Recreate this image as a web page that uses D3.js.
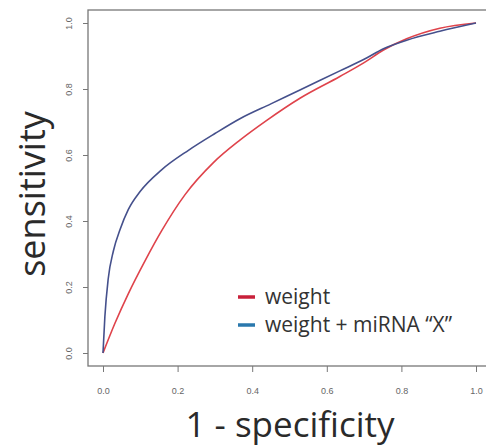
<!DOCTYPE html>
<html>
<head>
<meta charset="utf-8">
<script src="https://cdn.jsdelivr.net/npm/d3@7"></script>
<style>
  html, body { margin: 0; padding: 0; background: #fff; }
  svg { display: block; }
</style>
</head>
<body>
<div id="chart"></div>
<script>
// ROC curves, values
const seriesNames = ['weight', 'weight + miRNA \u201cX\u201d'];

const weightFpr = [0, 0.032, 0.068, 0.113, 0.157, 0.22, 0.296, 0.367, 0.439, 0.528, 0.635, 0.70, 0.752, 0.814, 0.903, 1];
const weightTpr = [0, 0.09, 0.18, 0.28, 0.37, 0.48, 0.577, 0.645, 0.705, 0.772, 0.838, 0.88, 0.918, 0.952, 0.984, 1];

const mirnaFpr = [0, 0.005, 0.014, 0.028, 0.046, 0.068, 0.10, 0.157, 0.23, 0.30, 0.367, 0.45, 0.528, 0.635, 0.70, 0.752, 0.814, 0.903, 1];
const mirnaTpr = [0, 0.11, 0.225, 0.31, 0.375, 0.435, 0.49, 0.555, 0.615, 0.665, 0.71, 0.755, 0.797, 0.855, 0.89, 0.922, 0.948, 0.975, 1];

const xTicks = [0, 0.2, 0.4, 0.6, 0.8, 1.0];
const yTicks = [0, 0.2, 0.4, 0.6, 0.8, 1.0];

const width = 486;
const height = 448;
const box = { left: 88, top: 10, right: 492, bottom: 366 };

const svg = d3.select('#chart')
    .append('svg')
    .attr('width', width)
    .attr('height', height);

const x = d3.scaleLinear().domain([0, 1]).range([103, 476]);
const y = d3.scaleLinear().domain([0, 1]).range([353, 23]);

// plot frame
svg.append('rect')
    .attr('x', box.left)
    .attr('y', box.top)
    .attr('width', box.right - box.left)
    .attr('height', box.bottom - box.top)
    .attr('fill', 'none')
    .attr('stroke', '#777')
    .attr('stroke-width', 1.3);

// x axis
const xAxis = svg.append('g')
    .attr('transform', `translate(0,${box.bottom})`)
    .call(d3.axisBottom(x).tickValues(xTicks).tickSize(6).tickFormat(d3.format('.1f')));
xAxis.select('.domain').remove();
xAxis.selectAll('line').attr('stroke', '#777');
xAxis.selectAll('text')
    .attr('y', 28)
    .attr('dy', 0)
    .attr('fill', '#666')
    .style('font-family', 'Liberation Sans, Arial, sans-serif')
    .style('font-size', '9px');

// y axis, labels turned like R does
const yAxis = svg.append('g')
    .attr('transform', `translate(${box.left},0)`)
    .call(d3.axisLeft(y).tickValues(yTicks).tickSize(5).tickFormat(d3.format('.1f')));
yAxis.select('.domain').remove();
yAxis.selectAll('line').attr('stroke', '#777');
yAxis.selectAll('text')
    .attr('x', 0)
    .attr('dy', 0)
    .attr('text-anchor', 'middle')
    .attr('transform', 'translate(-16,0) rotate(-90)')
    .attr('fill', '#666')
    .style('font-family', 'Liberation Sans, Arial, sans-serif')
    .style('font-size', '9px');

// curves
const line = d3.line()
    .x(d => x(d[0]))
    .y(d => y(d[1]))
    .curve(d3.curveMonotoneX);

const curves = [
    { name: seriesNames[0], pts: d3.zip(weightFpr, weightTpr), color: '#df434b', key: '#c8203a' },
    { name: seriesNames[1], pts: d3.zip(mirnaFpr, mirnaTpr), color: '#45508c', key: '#2a78ad' }
];

svg.selectAll('path.roc')
    .data(curves)
    .join('path')
    .attr('class', 'roc')
    .attr('d', d => line(d.pts))
    .attr('fill', 'none')
    .attr('stroke', d => d.color)
    .attr('stroke-width', 1.6);

// legend
const legend = svg.append('g').attr('transform', 'translate(238,297)');
const items = legend.selectAll('g')
    .data(curves)
    .join('g')
    .attr('transform', (d, i) => `translate(0,${i * 28})`);
items.append('line')
    .attr('x1', 0).attr('x2', 17)
    .attr('stroke', d => d.key)
    .attr('stroke-width', 3.5);
items.append('text')
    .attr('x', 27)
    .attr('dy', '0.32em')
    .attr('fill', '#333')
    .style('font-family', 'Open Sans, sans-serif')
    .style('font-size', '21px')
    .text(d => d.name);

// axis titles
svg.append('text')
    .attr('x', 290)
    .attr('y', 437)
    .attr('text-anchor', 'middle')
    .attr('fill', '#2a2a2a')
    .style('font-family', 'Open Sans, sans-serif')
    .style('font-size', '35px')
    .text('1 - specificity');

svg.append('text')
    .attr('transform', 'translate(45,194) rotate(-90)')
    .attr('text-anchor', 'middle')
    .attr('fill', '#2a2a2a')
    .style('font-family', 'Open Sans, sans-serif')
    .style('font-size', '36px')
    .text('sensitivity');
</script>
</body>
</html>
